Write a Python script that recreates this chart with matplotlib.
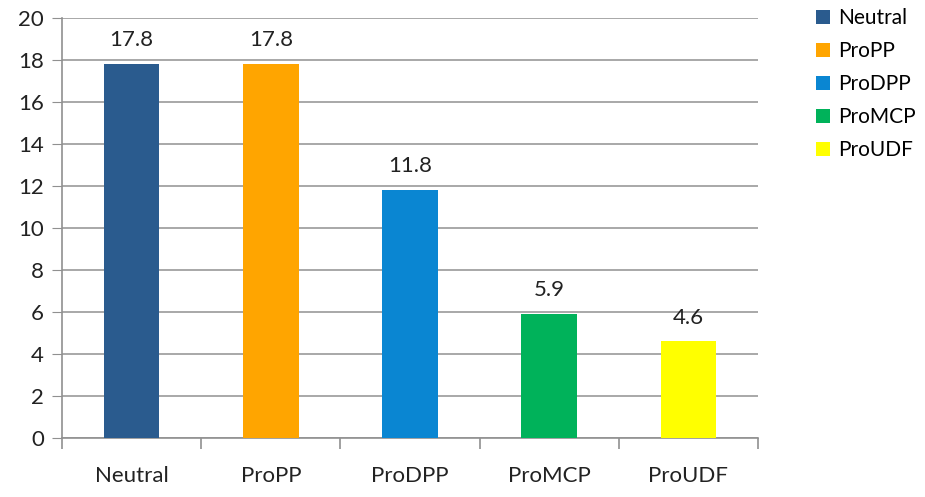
import matplotlib.pyplot as plt
from matplotlib.patches import Patch

# === DATA ===
categories = ['Neutral', 'ProPP', 'ProDPP', 'ProMCP', 'ProUDF']
values = [17.8, 17.8, 11.8, 5.9, 4.6]
labels = ['17.8', '17.8', '11.8', '5.9', '4.6']
colors = ['#2A5B8E', '#FFA500', '#0A86D2', '#00B25A', '#FFFF00']

plt.rcParams['font.family'] = ['Lato', 'DejaVu Sans']

fig = plt.figure(figsize=(9.25, 4.97), dpi=100)
ax = fig.add_axes([0.067, 0.1187, 0.7524, 0.845])

x = list(range(len(categories)))
ax.bar(x, values, width=0.4, color=colors, zorder=3)

for xi, v, lab in zip(x, values, labels):
    ax.annotate(lab, (xi, v), xytext=(0, 10), textcoords='offset points',
                ha='center', va='bottom', fontsize=16, color='#222222')

ax.set_xlim(-0.5, len(categories) - 0.5)
ax.set_ylim(0, 20)
ax.set_yticks(range(0, 21, 2))
ax.tick_params(axis='y', labelsize=16, length=7, color='#909090', pad=6, labelcolor='#222222')

ax.set_xticks(x)
ax.set_xticklabels(categories)
ax.tick_params(axis='x', which='major', length=0, labelsize=16, pad=20, labelcolor='#222222')
ax.set_xticks([i - 0.5 for i in range(len(categories) + 1)], minor=True)
ax.tick_params(axis='x', which='minor', length=8, color='#909090', width=1.2)

ax.grid(axis='y', color='#9a9a9a', linewidth=1.2, zorder=0)
for s in ['top', 'right']:
    ax.spines[s].set_visible(False)
for s in ['left', 'bottom']:
    ax.spines[s].set_color('#909090')
    ax.spines[s].set_linewidth(1.2)

handles = [Patch(facecolor=c, label=n) for c, n in zip(colors, categories)]
fig.legend(handles=handles, loc='upper left', bbox_to_anchor=(0.882, 0.983),
           frameon=False, fontsize=15, handlelength=0.7, handleheight=0.7,
           handletextpad=0.35, labelspacing=0.62, borderpad=0, borderaxespad=0)

fig.savefig('out.png', dpi=100)
